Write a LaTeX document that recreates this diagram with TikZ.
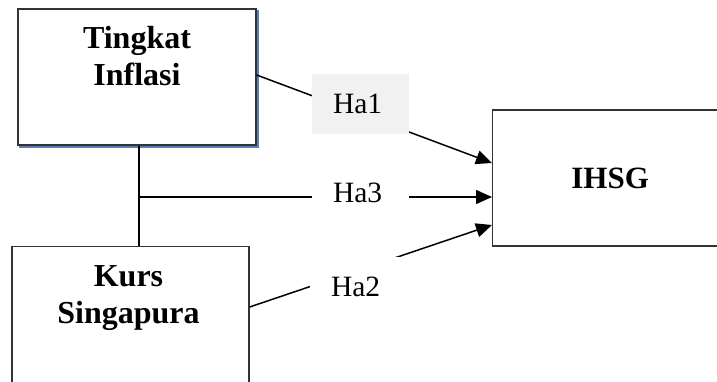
\documentclass[tikz,border=0pt]{standalone}
\usepackage{fontspec}
\setmainfont{Liberation Serif}
\usetikzlibrary{arrows.meta,calc}
\definecolor{shadowblue}{HTML}{5A7FB4}
\definecolor{labelgray}{HTML}{F1F1F1}
\definecolor{boxborder}{HTML}{333333}
\begin{document}
\begin{tikzpicture}[x=1pt,y=-1pt,
  box/.style={draw=boxborder, line width=1.3pt, fill=white, inner sep=0pt},
  boxtext/.style={font=\fontsize{32}{37}\selectfont\bfseries, align=center, inner sep=0pt},
  hlabel/.style={font=\fontsize{29.5}{35}\selectfont, inner ysep=0pt, inner xsep=21pt,
                 text width=55pt, align=left, minimum height=60pt},
  conn/.style={line width=1.5pt, draw=black},
  arr/.style={conn, -{Triangle[length=16pt,width=14pt]}}]
\useasboundingbox (0,0) rectangle (717,381);

% boxes
\node[box, minimum width=238pt, minimum height=136pt] (b1) at (137,77) {};
\draw[shadowblue, line width=2pt] ($(b1.north east)+(1.6,2)$) -- ($(b1.south east)+(1.6,1.6)$) -- ($(b1.south west)+(2,1.6)$);
\node[boxtext, anchor=base] (t1) at (137,85) {Tingkat\\Inflasi};

\node[box, minimum width=237pt, minimum height=170pt, anchor=north] (b2) at (130.5,246) {};
\node[boxtext, anchor=base] (t2) at (128.5,323) {Kurs\\Singapura};

\node[box, minimum width=235pt, minimum height=136pt, anchor=west,
      font=\fontsize{31}{37}\selectfont\bfseries] (ihsg) at (492,178) {IHSG};

% connectors
\coordinate (jn) at (139,197);
\draw[conn] ($(b1.south)+(2,0)$) -- ($(b2.north)+(8.5,0)$);
\draw[arr] (jn) -- ($(ihsg.west)+(0,19)$);
\draw[arr] ($(b1.east)+(0,-2)$) -- ($(ihsg.west)+(0,-15)$);
\draw[arr] ($(b2.north east)+(0,61)$) -- ($(ihsg.west)+(0,47)$);

% labels
\node[hlabel, fill=labelgray] (h1) at (360.5,104) {Ha1};
\node[hlabel, fill=white, minimum height=40pt] (h3) at (360.5,193) {Ha3};
\node[hlabel, fill=white] (h2) at (358.5,287) {Ha2};
\end{tikzpicture}
\end{document}
